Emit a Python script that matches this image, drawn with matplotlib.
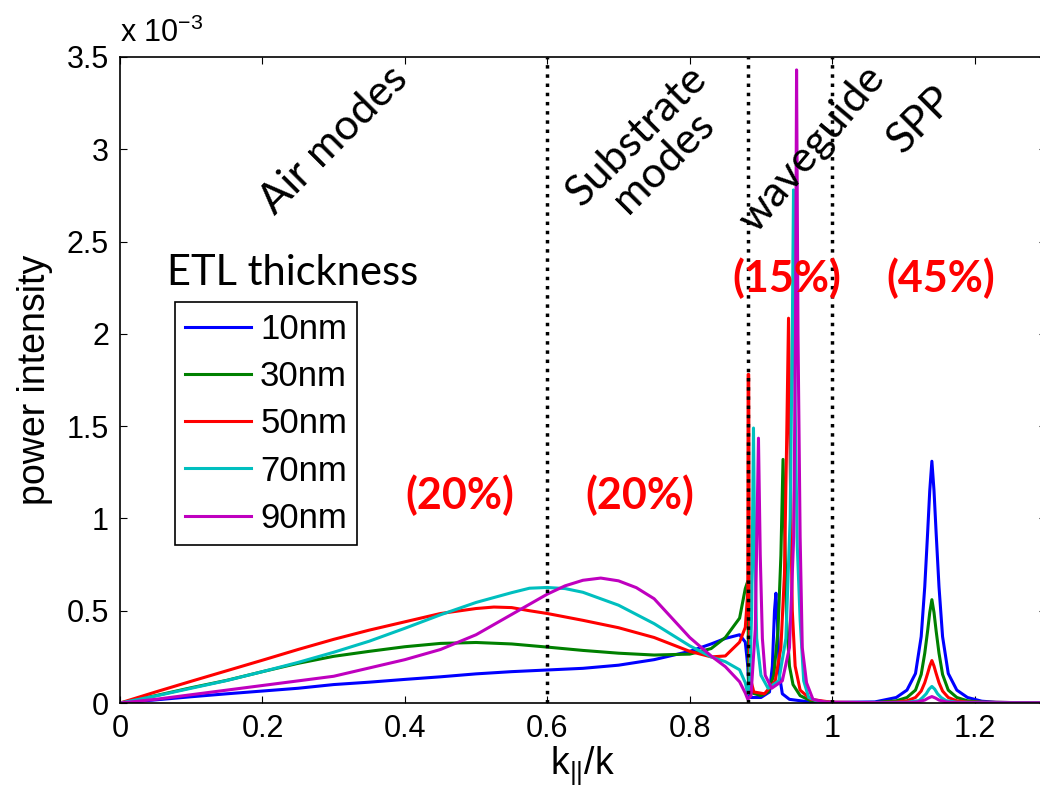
import matplotlib
matplotlib.use("Agg")
import matplotlib.pyplot as plt
from matplotlib.ticker import FormatStrFormatter

plt.rcParams['font.family'] = ['Liberation Sans', 'DejaVu Sans']
plt.rcParams['mathtext.default'] = 'regular'

# values in units of 1e-3
x_10 = [0, 0.05, 0.1, 0.15, 0.2, 0.25, 0.3, 0.35, 0.4, 0.45, 0.5, 0.55, 0.6, 0.65, 0.7, 0.75, 0.8, 0.83, 0.85, 0.87, 0.878, 0.8815,
        0.8835, 0.9, 0.912, 0.916, 0.919, 0.921, 0.923, 0.926, 0.93, 0.94, 0.96, 1.0, 1.06,
        1.09, 1.105, 1.117, 1.125, 1.13, 1.134, 1.137, 1.14, 1.143, 1.146, 1.15, 1.155, 1.163, 1.175, 1.19, 1.21, 1.23, 1.26, 1.3]
y_10 = [0, 0.017, 0.034, 0.05, 0.065, 0.08, 0.1, 0.113, 0.128, 0.142, 0.158, 0.17, 0.179, 0.188, 0.205, 0.235, 0.28, 0.32, 0.35, 0.37, 0.33, 0.2,
        0.03, 0.03, 0.06, 0.2, 0.5, 0.595, 0.45, 0.15, 0.05, 0.02, 0.01, 0.003, 0.006,
        0.03, 0.07, 0.16, 0.36, 0.63, 0.92, 1.15, 1.31, 1.15, 0.92, 0.63, 0.36, 0.16, 0.07, 0.03, 0.01, 0.004, 0.002, 0.001]

x_30 = [0, 0.05, 0.1, 0.15, 0.2, 0.25, 0.3, 0.35, 0.4, 0.45, 0.5, 0.55, 0.6, 0.65, 0.7, 0.75, 0.8, 0.83, 0.85, 0.87, 0.878, 0.8815,
        0.883, 0.9, 0.91, 0.918, 0.924, 0.928, 0.931, 0.9335, 0.936, 0.94, 0.945, 0.955, 0.97, 1.0, 1.06,
        1.09, 1.105, 1.117, 1.125, 1.13, 1.134, 1.137, 1.14, 1.143, 1.146, 1.15, 1.155, 1.163, 1.175, 1.19, 1.21, 1.3]
y_30 = [0, 0.04, 0.083, 0.123, 0.17, 0.215, 0.253, 0.28, 0.305, 0.323, 0.328, 0.32, 0.303, 0.285, 0.27, 0.26, 0.265, 0.295, 0.355, 0.46, 0.62, 0.66,
        0.06, 0.04, 0.06, 0.15, 0.4, 0.8, 1.32, 0.9, 0.45, 0.2, 0.1, 0.04, 0.012, 0.003, 0.003,
        0.012, 0.03, 0.07, 0.155, 0.27, 0.39, 0.49, 0.56, 0.49, 0.39, 0.27, 0.155, 0.07, 0.03, 0.012, 0.004, 0.001]

x_50 = [0, 0.05, 0.1, 0.15, 0.2, 0.25, 0.3, 0.35, 0.4, 0.45, 0.5, 0.525, 0.55, 0.575, 0.6, 0.65, 0.7, 0.75, 0.8, 0.83, 0.85, 0.87, 0.878, 0.8815,
        0.882, 0.8828, 0.884, 0.89, 0.905, 0.92, 0.928, 0.933, 0.936, 0.9387, 0.941, 0.944, 0.948, 0.955, 0.97, 1.0, 1.06,
        1.09, 1.105, 1.117, 1.125, 1.13, 1.134, 1.137, 1.14, 1.143, 1.146, 1.15, 1.155, 1.163, 1.175, 1.19, 1.3]
y_50 = [0, 0.06, 0.118, 0.175, 0.232, 0.29, 0.345, 0.395, 0.44, 0.485, 0.512, 0.52, 0.517, 0.5, 0.485, 0.448, 0.408, 0.355, 0.28, 0.25, 0.255, 0.33, 0.41, 0.6,
        1.78, 1.78, 0.15, 0.06, 0.05, 0.12, 0.3, 0.7, 1.4, 2.085, 1.3, 0.5, 0.2, 0.07, 0.02, 0.004, 0.002,
        0.005, 0.012, 0.03, 0.065, 0.11, 0.16, 0.2, 0.23, 0.2, 0.16, 0.11, 0.065, 0.03, 0.012, 0.005, 0.001]

x_70 = [0, 0.05, 0.1, 0.15, 0.2, 0.25, 0.3, 0.35, 0.4, 0.45, 0.5, 0.55, 0.575, 0.6, 0.625, 0.65, 0.7, 0.75, 0.8, 0.83, 0.85, 0.87, 0.878, 0.8815,
        0.884, 0.887, 0.8895, 0.891, 0.894, 0.9, 0.91, 0.925, 0.935, 0.941, 0.944, 0.9457, 0.948, 0.951, 0.955, 0.96, 0.967, 0.98, 1.0, 1.06,
        1.105, 1.122, 1.127, 1.132, 1.136, 1.14, 1.144, 1.148, 1.153, 1.16, 1.175, 1.3]
y_70 = [0, 0.038, 0.08, 0.122, 0.17, 0.22, 0.275, 0.335, 0.405, 0.478, 0.545, 0.598, 0.622, 0.626, 0.62, 0.6, 0.53, 0.43, 0.31, 0.25, 0.224, 0.18, 0.11, 0.05,
        0.1, 0.5, 1.49, 0.9, 0.35, 0.15, 0.08, 0.12, 0.35, 1.0, 2.0, 2.78, 1.6, 0.85, 0.45, 0.12, 0.03, 0.008, 0.002, 0.002,
        0.004, 0.013, 0.03, 0.05, 0.075, 0.09, 0.075, 0.05, 0.03, 0.013, 0.004, 0.001]

x_90 = [0, 0.05, 0.1, 0.15, 0.2, 0.25, 0.3, 0.35, 0.4, 0.45, 0.5, 0.55, 0.6, 0.625, 0.65, 0.675, 0.7, 0.725, 0.75, 0.775, 0.8, 0.83, 0.85, 0.87, 0.878, 0.8815,
        0.886, 0.892, 0.8965, 0.899, 0.902, 0.906, 0.915, 0.93, 0.94, 0.946, 0.9485, 0.95, 0.952, 0.955, 0.958, 0.964, 0.973, 0.99, 1.06,
        1.105, 1.12, 1.13, 1.135, 1.14, 1.145, 1.15, 1.16, 1.175, 1.3]
y_90 = [0, 0.02, 0.045, 0.07, 0.095, 0.12, 0.145, 0.19, 0.235, 0.29, 0.37, 0.48, 0.59, 0.635, 0.665, 0.677, 0.662, 0.625, 0.565, 0.46, 0.355, 0.255, 0.197, 0.115, 0.054, 0.02,
        0.04, 0.4, 1.435, 0.8, 0.35, 0.15, 0.08, 0.12, 0.3, 0.9, 2.0, 3.43, 2.0, 0.9, 0.3, 0.11, 0.02, 0.005, 0.002,
        0.002, 0.006, 0.016, 0.027, 0.035, 0.027, 0.016, 0.006, 0.002, 0.001]

series = [(x_10, y_10, '10nm', (0, 0, 1)),
          (x_30, y_30, '30nm', (0, 0.5, 0)),
          (x_50, y_50, '50nm', (1, 0, 0)),
          (x_70, y_70, '70nm', (0, 0.75, 0.75)),
          (x_90, y_90, '90nm', (0.75, 0, 0.75))]

boundaries = [0.6, 0.8825, 1.0]

fig = plt.figure(figsize=(10.4, 7.96), dpi=100)
ax = fig.add_axes([0.1154, 0.1168, 0.8902, 0.8116])

for xs, ys, lab, col in series:
    ax.plot(xs, ys, color=col, lw=2.2, label=lab)

for b in boundaries:
    ax.axvline(b, color='black', ls=':', lw=2.5, zorder=5)

ax.set_xlim(0, 1.3)
ax.set_ylim(0, 3.5)
ax.set_xticks([0, 0.2, 0.4, 0.6, 0.8, 1.0, 1.2])
ax.set_yticks([0, 0.5, 1, 1.5, 2, 2.5, 3, 3.5])
ax.xaxis.set_major_formatter(FormatStrFormatter('%g'))
ax.yaxis.set_major_formatter(FormatStrFormatter('%g'))
ax.tick_params(direction='in', length=5, width=0.8, labelsize=22, top=True, right=True, pad=8)
for s in ax.spines.values():
    s.set_linewidth(1.2)

ax.text(0, 1.012, r'x 10$^{-3}$', transform=ax.transAxes, ha='left', va='bottom', fontsize=22)
ax.set_ylabel('power intensity', fontsize=27, labelpad=10)
ax.set_xlabel(r'k$_{||}$/k', fontsize=27, labelpad=0)

calib = ['Lato', 'DejaVu Sans']
ax.text(0.30, 3.05, 'Air modes', rotation=45, ha='center', va='center', fontsize=31, family=calib)
ax.text(0.745, 3.0, 'Substrate\nmodes', rotation=45, ha='center', va='center', fontsize=31, family=calib,
        multialignment='center', linespacing=1.0)
ax.text(0.972, 3.0, 'waveguide', rotation=50, ha='center', va='center', fontsize=31, family=calib)
ax.text(1.124, 3.16, 'SPP', rotation=45, ha='center', va='center', fontsize=31, family=calib)

for px, py, t in [(0.4775, 1.127, '(20%)'), (0.73, 1.127, '(20%)'), (0.937, 2.3, '(15%)'), (1.152, 2.3, '(45%)')]:
    ax.text(px, py, t, color='red', fontweight='bold', ha='center', va='center', fontsize=31, family=calib, zorder=6)

ax.text(0.066, 2.264, 'ETL thickness', ha='left', va='baseline', fontsize=30, family=calib)

leg = ax.legend(loc='upper left', bbox_to_anchor=(0.0594, 0.62), borderaxespad=0, fancybox=False,
                edgecolor='black', framealpha=1, fontsize=25, handlelength=1.9, handletextpad=0.25,
                labelspacing=0.41, borderpad=0.3)
leg.get_frame().set_linewidth(1.2)

plt.savefig('out.png', dpi=100)
